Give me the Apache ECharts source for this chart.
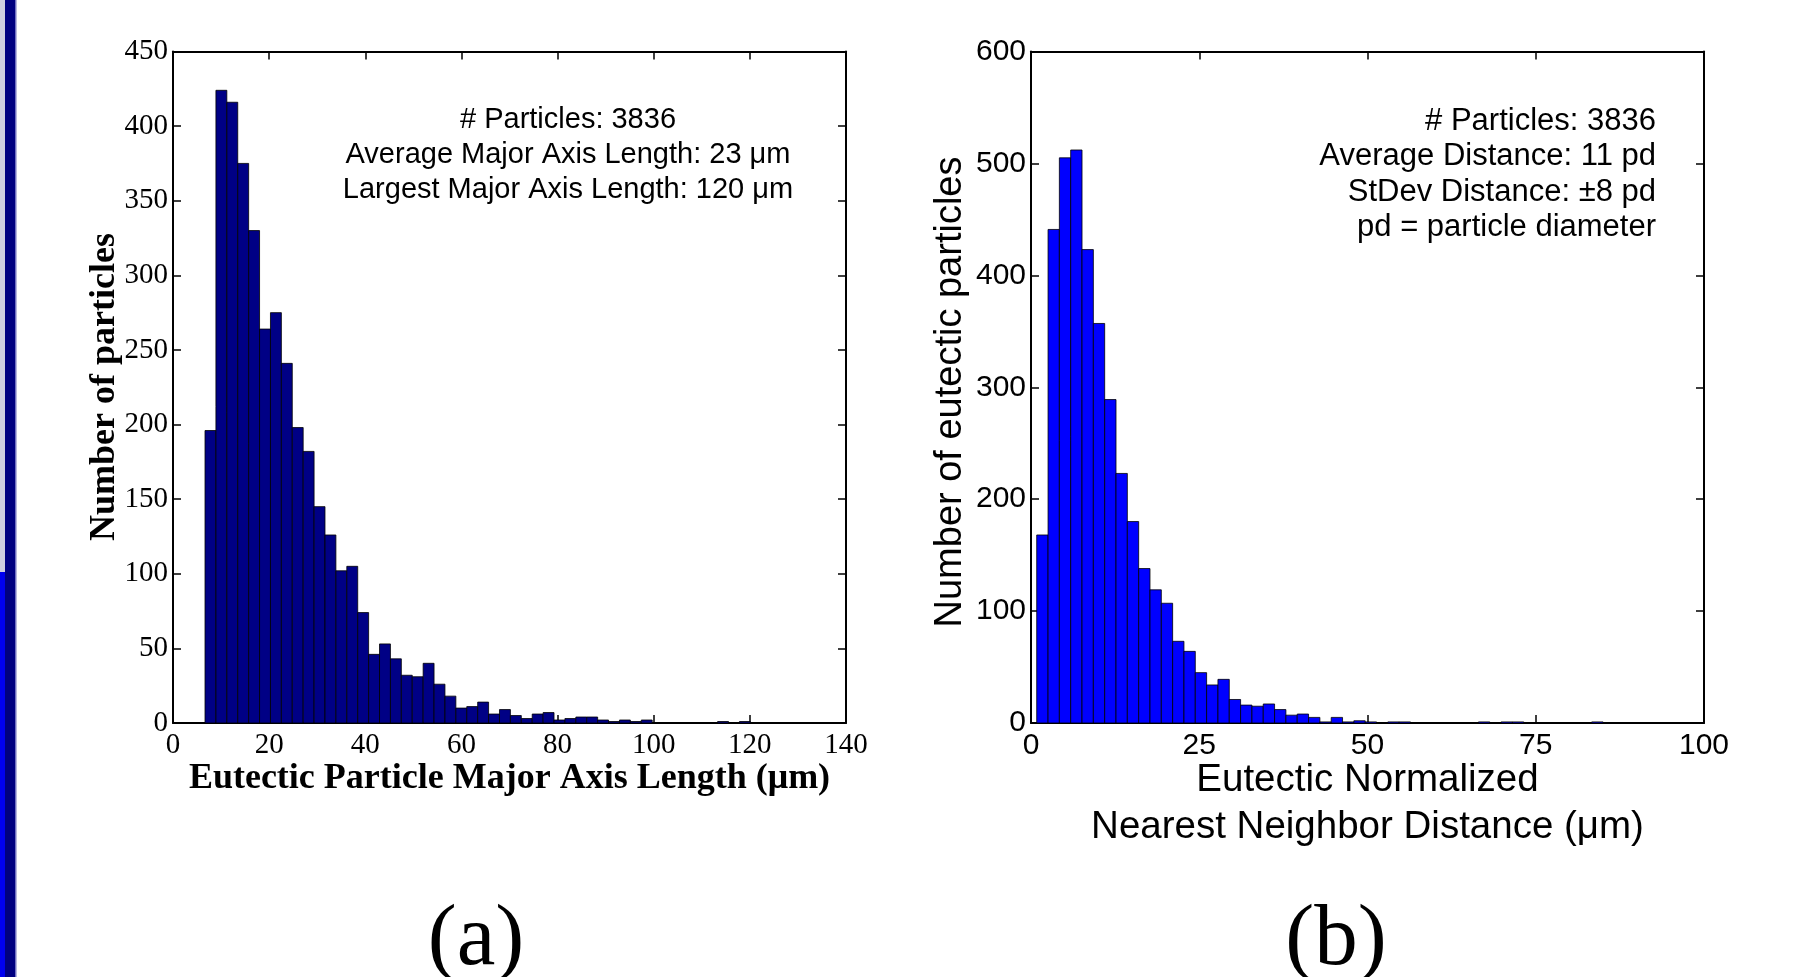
<!DOCTYPE html>
<html><head><meta charset="utf-8">
<script src="https://cdn.jsdelivr.net/npm/echarts@6/dist/echarts.min.js"></script>
<style>html,body{margin:0;padding:0;background:#fff}#c{width:1798px;height:977px}</style>
</head><body><div id="c"></div>
<script>
// ---- data ----
const leftCounts = [196, 424, 416, 375, 330, 264, 275, 241, 198, 182,
                    145, 126, 102, 105, 74, 46, 53, 43, 32, 31,
                    40, 26, 18, 10, 11, 14, 6, 9, 5, 3,
                    6, 7, 2, 3, 4, 4, 2, 1, 2, 1,
                    2, 0, 0, 0, 0, 0, 0, 1, 0, 1];
const leftBinRange = [6.66, 120.1];
const rightCounts = [168, 441, 505, 512, 423, 357, 289, 223, 180, 138,
                     119, 107, 73, 64, 45, 34, 39, 21, 16, 15,
                     17, 12, 7, 8, 5, 1, 5, 1, 2, 1,
                     0, 1, 1, 0, 0, 0, 0, 0, 0, 1,
                     0, 1, 1, 0, 0, 0, 0, 0, 0, 1];
const rightBinRange = [0.85, 85.0];
const leftXAxisRange = [0, 140, 20];
const leftYAxisRange = [0, 450, 50];
const rightXAxisRange = [0, 100, 25];
const rightYAxisRange = [0, 600, 100];
const leftXTitle = 'Eutectic Particle Major Axis Length (μm)';
const leftYTitle = 'Number of particles';
const rightXTitle = ['Eutectic Normalized', 'Nearest Neighbor Distance (μm)'];
const rightYTitle = 'Number of eutectic particles';
const leftNotes = ['# Particles: 3836', 'Average Major Axis Length: 23 μm', 'Largest Major Axis Length: 120 μm'];
const rightNotes = ['# Particles: 3836', 'Average Distance: 11 pd', 'StDev Distance: ±8 pd', 'pd = particle diameter'];
const panelLabels = ['(a)', '(b)'];

// ---- build ----
function bins(counts, range) {
  const w = (range[1] - range[0]) / counts.length;
  return counts.map((c, i) => [range[0] + i * w, range[0] + (i + 1) * w, c]);
}
const SERIF = '"Liberation Serif","Times New Roman",serif';
const SANS = '"Liberation Sans",Arial,sans-serif';
const G = [
  {left: 173, top: 51.5, width: 673, height: 671.5},
  {left: 1031, top: 51.5, width: 673, height: 671.5}
];
function xAx(gi, r, font, size, pos) {
  return {gridIndex: gi, type: 'value', min: r[0], max: r[1], interval: r[2], position: pos,
    axisLine: {show: true, onZero: false, lineStyle: {color: '#000', width: 2}},
    axisTick: {show: true, inside: true, length: 8, lineStyle: {color: '#000', width: 1.5}},
    axisLabel: {show: pos === 'bottom', margin: 8, color: '#000', fontFamily: font, fontSize: size},
    splitLine: {show: false}};
}
function yAx(gi, r, font, size, pos) {
  return {gridIndex: gi, type: 'value', min: r[0], max: r[1], interval: r[2], position: pos,
    axisLine: {show: true, onZero: false, lineStyle: {color: '#000', width: 2}},
    axisTick: {show: true, inside: true, length: 8, lineStyle: {color: '#000', width: 1.5}},
    axisLabel: {show: pos === 'left', margin: 5, color: '#000', fontFamily: font, fontSize: size},
    splitLine: {show: false}};
}
function histSeries(xi, yi, data, fill) {
  return {type: 'custom', xAxisIndex: xi, yAxisIndex: yi, data: data, silent: true, clip: true,
    renderItem: function (params, api) {
      const p0 = api.coord([api.value(0), 0]);
      const p1 = api.coord([api.value(1), api.value(2)]);
      return {type: 'rect', shape: {x: p0[0], y: p1[1], width: p1[0] - p0[0], height: p0[1] - p1[1]},
        style: {fill: fill, stroke: '#000', lineWidth: 0.8}};
    }};
}
function txt(text, x, y, font, align, extra) {
  return Object.assign({type: 'text', x: x, y: y, silent: true,
    style: {text: text, font: font, fill: '#000', align: align, textAlign: align,
      verticalAlign: 'middle', textVerticalAlign: 'middle'}}, extra || {});
}

const graphics = [
  {type: 'rect', shape: {x: 0, y: 0, width: 5, height: 572}, style: {fill: '#cfcfe0'}},
  {type: 'rect', shape: {x: 0, y: 572, width: 5, height: 405}, style: {fill: '#0000f0'}},
  {type: 'rect', shape: {x: 5, y: 0, width: 10, height: 977}, style: {fill: '#000080'}},
  {type: 'rect', shape: {x: 15, y: 0, width: 1.5, height: 977}, style: {fill: '#7070c0'}}
];
// axis titles
graphics.push(txt(leftXTitle, G[0].left + G[0].width / 2, 778.5, 'bold 36px ' + SERIF, 'center'));
graphics.push(txt(leftYTitle, 0, 0, 'bold 36px ' + SERIF, 'center', {x: 105, y: 387, rotation: Math.PI / 2}));
rightXTitle.forEach((t, i) => graphics.push(txt(t, G[1].left + G[1].width / 2, 780.5 + i * 47, '38.5px ' + SANS, 'center')));
graphics.push(txt(rightYTitle, 0, 0, '38px ' + SANS, 'center', {x: 951, y: 392, rotation: Math.PI / 2}));
// annotations
leftNotes.forEach((t, i) => graphics.push(txt(t, 568, 119.5 + i * 35, '29px ' + SANS, 'center')));
rightNotes.forEach((t, i) => graphics.push(txt(t, 1656, 121 + i * 35.6, '31px ' + SANS, 'right')));
// panel labels
graphics.push(txt(panelLabels[0], 476, 941, '87px ' + SERIF, 'center'));
graphics.push(txt(panelLabels[1], 1336, 941, '87px ' + SERIF, 'center'));

const chart = echarts.init(document.getElementById('c'), null, {renderer: 'canvas'});
chart.setOption({
  backgroundColor: '#fff',
  animation: false,
  grid: G.map(g => Object.assign({containLabel: false, show: false}, g)),
  xAxis: [
    xAx(0, leftXAxisRange, SERIF, 29, 'bottom'), xAx(0, leftXAxisRange, SERIF, 29, 'top'),
    xAx(1, rightXAxisRange, SANS, 30, 'bottom'), xAx(1, rightXAxisRange, SANS, 30, 'top')
  ],
  yAxis: [
    yAx(0, leftYAxisRange, SERIF, 29, 'left'), yAx(0, leftYAxisRange, SERIF, 29, 'right'),
    yAx(1, rightYAxisRange, SANS, 30, 'left'), yAx(1, rightYAxisRange, SANS, 30, 'right')
  ],
  series: [
    histSeries(0, 0, bins(leftCounts, leftBinRange), '#000085'),
    histSeries(2, 2, bins(rightCounts, rightBinRange), '#0000ff')
  ],
  graphic: graphics
});
</script></body></html>
